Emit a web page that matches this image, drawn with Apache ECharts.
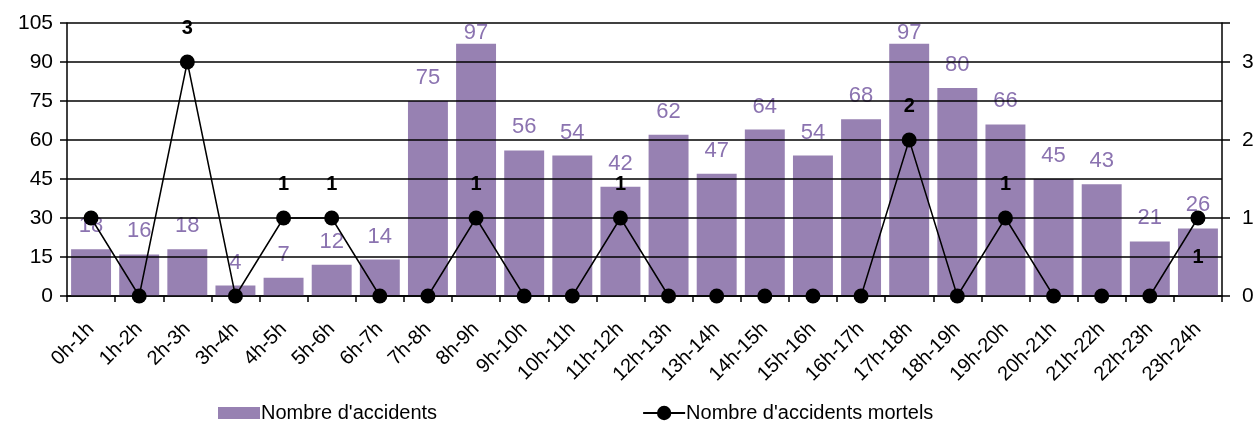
<!DOCTYPE html>
<html><head><meta charset="utf-8">
<script src="https://cdn.jsdelivr.net/npm/echarts@6/dist/echarts.min.js"></script>
<style>html,body{margin:0;padding:0;background:#fff}#c{width:1259px;height:430px}</style>
</head><body><div id="c"></div>
<script>
const categories = ['0h-1h','1h-2h','2h-3h','3h-4h','4h-5h','5h-6h','6h-7h','7h-8h','8h-9h','9h-10h','10h-11h','11h-12h','12h-13h','13h-14h','14h-15h','15h-16h','16h-17h','17h-18h','18h-19h','19h-20h','20h-21h','21h-22h','22h-23h','23h-24h'];
const accidents = [18,16,18,4,7,12,14,75,97,56,54,42,62,47,64,54,68,97,80,66,45,43,21,26];
const mortels = [1,0,3,0,1,1,0,0,1,0,0,1,0,0,0,0,0,2,0,1,0,0,0,1];
const leftTicks = {min:0, max:105, interval:15};
const rightTicks = {min:0, max:3.5, interval:1};

const FONT = 'Liberation Sans, Arial, sans-serif';
const gridTop = 23, gridBottom = 134, H = 430;
const plotH = H - gridTop - gridBottom;

const barData = accidents.map(v => {
  const top = gridTop + plotH * (1 - v / leftTicks.max);
  const dist = Math.max(0, Math.min(12, top - (gridTop + 11) - 11));
  return {value: v, label: {distance: dist}};
});
const lineData = mortels.map((v, i) => {
  const item = {value: v};
  if (v === 0 || i === 0) item.label = {show: false};
  else if (i === mortels.length - 1) item.label = {position: 'bottom', distance: 22};
  return item;
});

const chart = echarts.init(document.getElementById('c'));
chart.setOption({
  animation: false,
  textStyle: {fontFamily: FONT},
  grid: {left: 67, right: 37, top: gridTop, bottom: gridBottom},
  legend: {
    bottom: 2, left: 213, itemGap: 205, itemWidth: 42, itemHeight: 18,
    symbolKeepAspect: true,
    textStyle: {fontFamily: FONT, fontSize: 20, color: '#000', padding: [0,0,0,-4]},
    data: [
      {name: "Nombre d'accidents", icon: 'path://M0,0H42V12H0Z'},
      {name: "Nombre d'accidents mortels"}
    ]
  },
  xAxis: {
    type: 'category', data: categories, boundaryGap: true,
    axisLine: {lineStyle: {color: '#000', width: 1.5}},
    axisTick: {show: true, length: 6, lineStyle: {color: '#000', width: 1.5}},
    axisLabel: {rotate: 45, interval: 0, fontFamily: FONT, fontSize: 20, color: '#000', margin: 30}
  },
  yAxis: [
    {
      type: 'value', min: leftTicks.min, max: leftTicks.max, interval: leftTicks.interval, z: 3,
      axisLine: {show: true, lineStyle: {color: '#000', width: 1.5}},
      axisTick: {show: true, length: 7, lineStyle: {color: '#000', width: 1.5}},
      splitLine: {show: true, lineStyle: {color: '#000', width: 1.5}},
      axisLabel: {fontFamily: FONT, fontSize: 21, color: '#000', margin: 14}
    },
    {
      type: 'value', min: rightTicks.min, max: rightTicks.max, interval: rightTicks.interval, position: 'right', z: 3,
      axisLine: {show: true, lineStyle: {color: '#000', width: 1.5}},
      axisTick: {show: true, length: 8, lineStyle: {color: '#000', width: 1.5}},
      splitLine: {show: false},
      axisLabel: {fontFamily: FONT, fontSize: 21, color: '#000', margin: 20,
        formatter: v => Number.isInteger(v) ? String(v) : ''}
    }
  ],
  series: [
    {
      name: "Nombre d'accidents", type: 'bar', yAxisIndex: 0, z: 2,
      data: barData, barCategoryGap: '17%',
      itemStyle: {color: '#9781B2'},
      label: {show: true, position: 'top', color: '#8B73B0', fontFamily: FONT, fontSize: 22}
    },
    {
      name: "Nombre d'accidents mortels", type: 'line', yAxisIndex: 1, z: 5,
      data: lineData, symbol: 'circle', symbolSize: 15,
      lineStyle: {color: '#000', width: 1.5},
      itemStyle: {color: '#000'},
      label: {show: true, position: 'top', distance: 16, color: '#000', fontWeight: 'bold', fontFamily: FONT, fontSize: 20}
    }
  ]
});
</script></body></html>
